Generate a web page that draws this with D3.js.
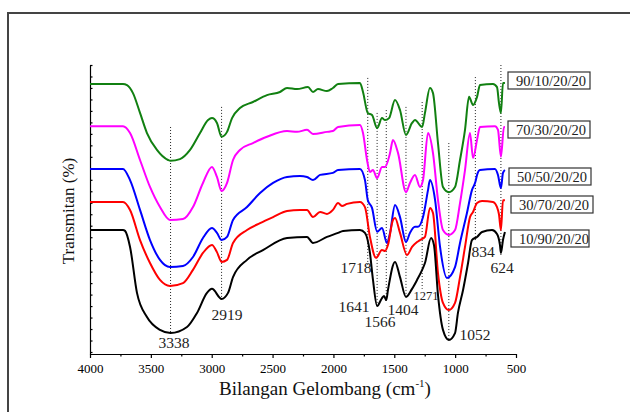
<!DOCTYPE html>
<html lang="en">
<head>
<meta charset="UTF-8">
<title>FTIR Spectra</title>
<script src="https://d3js.org/d3.v7.min.js"></script>
<style>
    body {
        margin: 0;
        background: #fff;
    }

    svg {
        display: block;
    }

    svg text {
        font-family: "Liberation Serif", "DejaVu Serif", serif;
    }

    .spectrum {
        fill: none;
        stroke-width: 2;
        stroke-linejoin: round;
    }

    .guide {
        stroke: #222;
        stroke-width: 1;
        stroke-dasharray: 1, 2;
    }

    .peak {
        font-size: 15.5px;
        fill: #222;
        text-anchor: middle;
    }

    .axis path, .axis line {
        stroke: #000;
        stroke-width: 1.2;
    }

    .axis text {
        font-size: 13px;
        fill: #000;
    }

    .legend rect {
        fill: #fff;
        stroke: #333;
        stroke-width: 1.2;
    }

    .legend text {
        font-size: 14.5px;
        fill: #222;
    }
</style>
</head>
<body>
<svg width="630" height="412"></svg>

<script>
    // spectra: [wavenumber, transmittance (offset, a.u.)]
    const green = [
        [4000, 93.4], [3729, 93.4], [3696, 93.0], [3647, 90.2], [3589, 83.3], [3532, 76.3],
        [3450, 70.4], [3359, 66.9], [3338, 66.6], [3261, 67.2], [3178, 70.4], [3096, 76.3],
        [3030, 80.8], [2998, 81.5], [2957, 79.8], [2919, 75.0], [2874, 76.7], [2833, 81.5],
        [2768, 85.0], [2661, 87.1], [2546, 89.5], [2439, 90.6], [2381, 92.0], [2299, 91.6],
        [2209, 92.3], [2168, 90.6], [2127, 91.6], [2053, 90.9], [2004, 92.0], [1962, 93.4],
        [1782, 93.7], [1757, 90.6], [1718, 83.3], [1683, 82.6], [1641, 78.0], [1601, 81.5],
        [1576, 80.8], [1543, 81.5], [1494, 87.8], [1453, 84.3], [1404, 75.6], [1354, 79.8],
        [1330, 80.8], [1271, 78.4], [1248, 83.3], [1207, 92.0], [1182, 90.2], [1141, 72.8],
        [1100, 57.5], [1052, 55.7], [1001, 57.5], [960, 66.9], [919, 77.4], [886, 88.9],
        [853, 86.1], [820, 88.9], [796, 93.0], [689, 93.4], [656, 92.3], [640, 86.8],
        [624, 83.3], [607, 93.7], [591, 93.7]
    ];

    const magenta = [
        [4000, 78.7], [3729, 78.7], [3671, 76.3], [3589, 66.9], [3507, 57.5], [3425, 50.5],
        [3343, 46.0], [3236, 46.3], [3154, 50.5], [3072, 58.9], [2998, 64.5], [2957, 61.0],
        [2919, 56.1], [2874, 58.9], [2825, 66.9], [2768, 70.4], [2661, 72.8], [2546, 75.0],
        [2381, 77.0], [2299, 76.7], [2217, 77.4], [2168, 76.0], [2053, 76.7], [2004, 77.0],
        [1962, 78.4], [1782, 79.1], [1757, 76.3], [1724, 66.9], [1700, 62.7], [1675, 63.4],
        [1641, 60.6], [1601, 64.5], [1576, 64.5], [1535, 69.3], [1511, 73.9], [1469, 69.3],
        [1404, 55.7], [1371, 58.9], [1330, 61.7], [1289, 57.5], [1264, 59.9], [1223, 76.3],
        [1182, 69.3], [1141, 53.0], [1100, 42.5], [1052, 40.8], [1001, 42.5], [960, 51.9],
        [919, 63.4], [878, 76.3], [853, 67.6], [820, 73.9], [796, 78.4], [673, 78.7],
        [648, 77.4], [624, 68.0], [599, 78.4], [591, 78.4]
    ];

    const blue = [
        [4000, 63.8], [3729, 63.8], [3671, 59.9], [3589, 49.5], [3507, 39.0], [3425, 32.1],
        [3343, 29.6], [3236, 30.0], [3154, 33.1], [3072, 39.7], [2998, 43.2], [2957, 41.5],
        [2919, 39.0], [2874, 40.1], [2825, 46.0], [2710, 50.5], [2603, 55.4], [2496, 58.9],
        [2381, 61.0], [2275, 61.3], [2217, 61.0], [2168, 59.9], [2110, 61.7], [2004, 62.4],
        [1962, 63.4], [1782, 63.8], [1741, 59.9], [1718, 53.0], [1683, 50.2], [1641, 41.9],
        [1601, 43.2], [1560, 38.0], [1535, 41.5], [1494, 51.2], [1453, 47.0], [1404, 38.3],
        [1371, 41.5], [1330, 43.6], [1305, 43.6], [1264, 47.0], [1223, 56.4], [1207, 59.9],
        [1165, 53.0], [1124, 36.6], [1067, 25.8], [1001, 29.6], [960, 38.0], [903, 48.4],
        [862, 56.4], [834, 59.2], [820, 61.7], [796, 63.4], [673, 63.8], [648, 61.7],
        [624, 57.1], [607, 62.4], [591, 63.4]
    ];

    const red = [
        [4000, 52.3], [3729, 52.3], [3671, 49.5], [3589, 39.0], [3507, 31.0], [3425, 25.1],
        [3343, 23.0], [3236, 24.0], [3154, 28.6], [3072, 34.5], [2998, 37.3], [2957, 34.8],
        [2919, 31.4], [2874, 32.1], [2825, 38.0], [2710, 42.5], [2603, 44.9], [2496, 47.0],
        [2381, 49.1], [2275, 49.5], [2217, 49.5], [2168, 47.0], [2110, 48.8], [2053, 48.1],
        [2004, 49.5], [1962, 51.9], [1930, 50.9], [1888, 51.6], [1782, 52.3], [1741, 50.5],
        [1700, 40.1], [1650, 32.8], [1601, 35.5], [1576, 35.2], [1552, 37.3], [1511, 46.0],
        [1494, 46.7], [1453, 41.5], [1396, 33.8], [1354, 36.6], [1313, 38.3], [1289, 39.0],
        [1248, 40.1], [1207, 50.2], [1182, 48.4], [1141, 27.5], [1100, 17.1], [1052, 14.6],
        [1001, 17.1], [960, 26.1], [919, 36.6], [878, 47.0], [853, 48.8], [820, 51.9],
        [779, 52.6], [689, 52.3], [656, 50.5], [640, 48.0], [624, 42.5], [607, 52.9],
        [591, 52.9]
    ];

    const black = [
        [4000, 42.5], [3729, 42.5], [3712, 42.2], [3671, 36.6], [3614, 20.6], [3532, 12.2],
        [3425, 7.7], [3338, 6.6], [3203, 8.7], [3121, 13.6], [3039, 20.6], [2998, 22.0],
        [2919, 18.5], [2866, 20.6], [2825, 26.1], [2710, 32.1], [2579, 35.5], [2381, 39.7],
        [2217, 40.1], [2168, 38.0], [2053, 40.1], [1962, 41.5], [1921, 42.2], [1782, 42.5],
        [1741, 41.5], [1700, 34.5], [1675, 25.1], [1641, 16.0], [1601, 18.8], [1584, 19.5],
        [1566, 18.1], [1552, 21.6], [1494, 31.4], [1453, 26.1], [1404, 19.2], [1354, 22.0],
        [1313, 25.1], [1271, 28.6], [1248, 31.0], [1198, 39.7], [1174, 37.3], [1141, 19.9],
        [1100, 7.7], [1052, 4.2], [1001, 6.6], [977, 13.6], [935, 21.6], [894, 31.0],
        [862, 39.0], [820, 40.1], [779, 41.8], [697, 42.5], [656, 41.1], [632, 37.3],
        [624, 34.5], [607, 39.0], [591, 41.8]
    ];

    const sampleLabels = ["90/10/20/20", "70/30/20/20", "50/50/20/20", "30/70/20/20", "10/90/20/20"];
    const sampleColors = ["#118011", "#ff00ff", "#0000ff", "#ff0000", "#000000"];
    const spectra = [green, magenta, blue, red, black];

    // marked bands: wavenumber, top and bottom of the guide line
    const peakWn = [3338, 2919, 1718, 1641, 1566, 1404, 1271, 1052, 834, 624];
    const peakTop = [78.4, 85.4, 95.5, 83.3, 84.3, 85.4, 87.1, 72.8, 95.8, 100];
    const peakBottom = [6.6, 18.5, 29.6, 16.0, 18.1, 19.2, 22.0, 4.2, 39.0, 33.8];

    const xTicks = [4000, 3500, 3000, 2500, 2000, 1500, 1000, 500];
    const xMinorTicks = [3750, 3250, 2750, 2250, 1750, 1250, 750];

    // layout
    const svg = d3.select("svg");

    const x = d3.scaleLinear().domain([4000, 500]).range([90, 516]);
    const y = d3.scaleLinear().domain([-0.7, 100]).range([354, 65]);

    // label anchors (wavenumber, transmittance at baseline), font size
    const peakLabelPos = [
        [3310, 1.4, 15.5], [2874, 11.1, 15.5], [1815, 27.5, 15.5], [1831, 13.9, 15.5],
        [1617, 8.7, 15.5], [1428, 12.9, 15.5], [1239, 18.1, 12.5], [837, 4.2, 15.5],
        [771, 33.1, 15.5], [615, 27.5, 15.5]
    ];
    const legendBox = [[508, 72, 82], [508, 121, 82], [509, 168, 82], [511, 196, 82], [511, 230, 78]];

    // outer frame
    svg.append("rect")
        .attr("x", 8).attr("y", 13)
        .attr("width", 700).attr("height", 500)
        .attr("fill", "none")
        .attr("stroke", "#444")
        .attr("stroke-width", 2);

    // axes
    svg.append("g")
        .attr("class", "axis")
        .attr("transform", "translate(0,354)")
        .call(d3.axisBottom(x).tickValues(xTicks).tickSize(4).tickPadding(6)
            .tickSizeOuter(0).tickFormat(d3.format("d")));

    svg.append("g")
        .attr("class", "axis")
        .attr("transform", "translate(0,354)")
        .call(d3.axisBottom(x).tickValues(xMinorTicks).tickSize(2.5).tickFormat("").tickSizeOuter(0));

    svg.append("g")
        .attr("class", "axis")
        .attr("transform", "translate(90,0)")
        .call(d3.axisLeft(y).tickValues(d3.range(0, 101, 4)).tickSizeInner(-2.5).tickSizeOuter(0).tickFormat(""));

    svg.selectAll(".axis").attr("font-family", null);

    const xTitle = svg.append("text")
        .attr("x", 325).attr("y", 395)
        .attr("text-anchor", "middle")
        .attr("font-size", 19)
        .attr("fill", "#111");
    xTitle.append("tspan").text("Bilangan Gelombang (cm");
    xTitle.append("tspan").attr("font-size", 11).attr("dy", -8).text("-1");
    xTitle.append("tspan").attr("dy", 8).text(")");

    svg.append("text")
        .attr("transform", "translate(74,211) rotate(-90)")
        .attr("text-anchor", "middle")
        .attr("font-size", 17)
        .attr("fill", "#111")
        .text("Transmitan (%)");

    // guide lines
    svg.selectAll(".guide")
        .data(peakWn)
        .join("line")
        .attr("class", "guide")
        .attr("x1", d => x(d)).attr("x2", d => x(d))
        .attr("y1", (d, i) => y(peakTop[i]))
        .attr("y2", (d, i) => y(peakBottom[i]));

    // peak labels
    svg.selectAll(".peak")
        .data(peakWn)
        .join("text")
        .attr("class", "peak")
        .attr("x", (d, i) => x(peakLabelPos[i][0]))
        .attr("y", (d, i) => y(peakLabelPos[i][1]))
        .style("font-size", (d, i) => peakLabelPos[i][2] + "px")
        .text(d => d);

    // spectra
    const line = d3.line()
        .x(d => x(d[0]))
        .y(d => y(d[1]))
        .curve(d3.curveMonotoneX);

    svg.selectAll(".spectrum")
        .data(spectra)
        .join("path")
        .attr("class", "spectrum")
        .attr("stroke", (d, i) => sampleColors[i])
        .attr("d", line);

    // sample boxes
    const legend = svg.selectAll(".legend")
        .data(sampleLabels)
        .join("g")
        .attr("class", "legend")
        .attr("transform", (d, i) => `translate(${legendBox[i][0]},${legendBox[i][1]})`);

    legend.append("rect")
        .attr("width", (d, i) => legendBox[i][2])
        .attr("height", 17);

    legend.append("text")
        .attr("x", 8).attr("y", 14)
        .text(d => d);
</script>
</body>
</html>
